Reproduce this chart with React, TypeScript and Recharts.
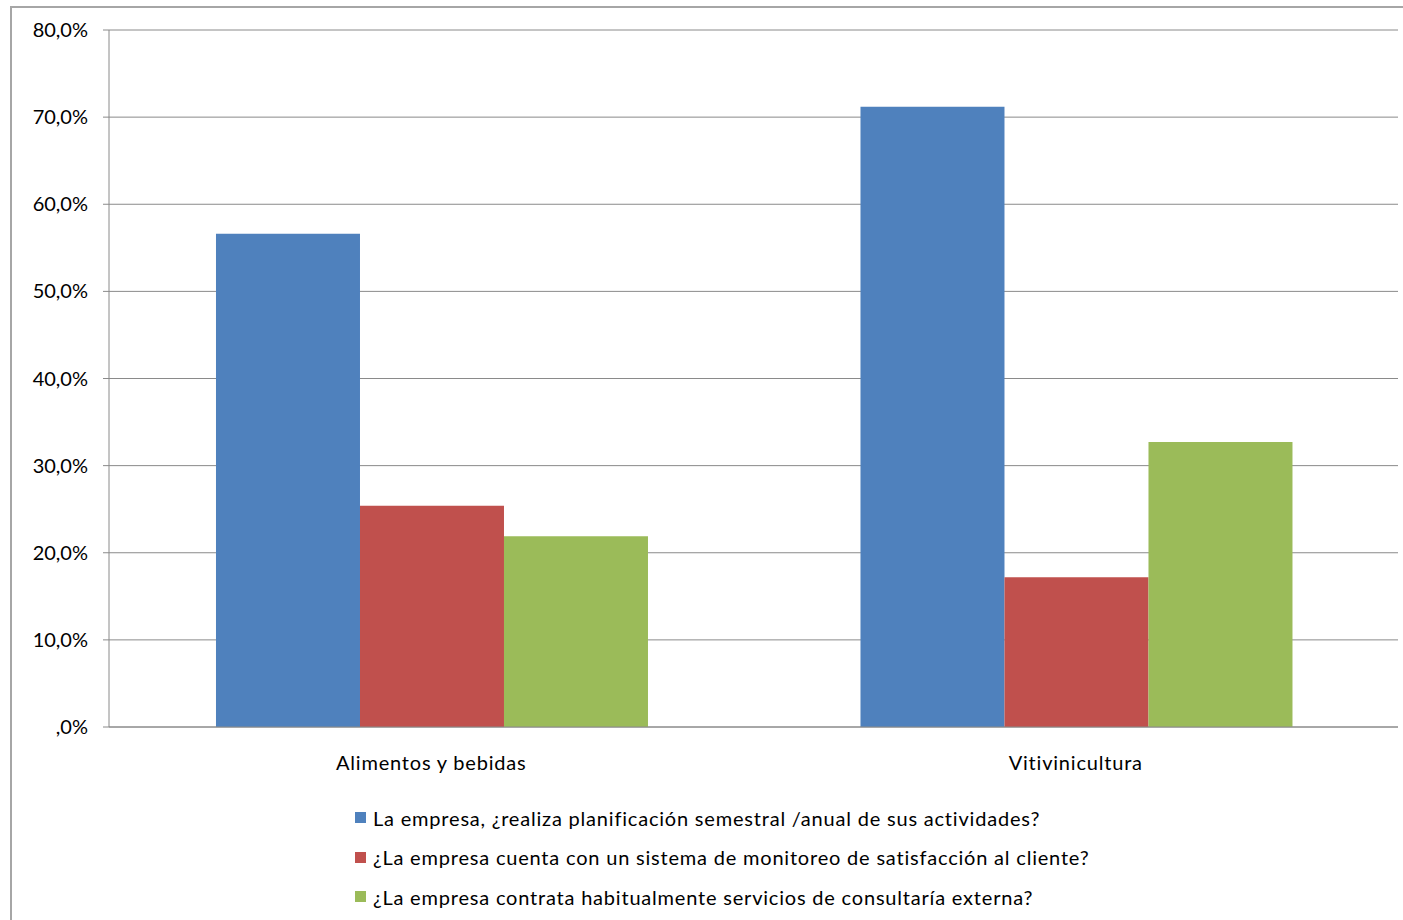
import React from 'react';
import { BarChart, Bar, XAxis, YAxis, CartesianGrid, Legend } from 'recharts';

const categories = ['Alimentos y bebidas', 'Vitivinicultura'];
const planificacion = [56.6, 71.2];
const monitoreo = [25.4, 17.2];
const consultoria = [21.9, 32.7];
const yTicks = [0, 10, 20, 30, 40, 50, 60, 70, 80];

const series = [
  { key: 'planificacion', name: 'La empresa, ¿realiza planificación semestral /anual de sus actividades?', color: '#4F81BD' },
  { key: 'monitoreo', name: '¿La empresa cuenta con un sistema de monitoreo de satisfacción al cliente?', color: '#C0504D' },
  { key: 'consultoria', name: '¿La empresa contrata habitualmente servicios de consultaría externa?', color: '#9BBB59' },
];

const data = categories.map((name, i) => ({
  name,
  planificacion: planificacion[i],
  monitoreo: monitoreo[i],
  consultoria: consultoria[i],
}));

const FONT = 'Lato, "Liberation Sans", sans-serif';
const AXIS = '#8a8a8a';
const SPACING = 0.8;

const fmtPct = (v: number) => (v === 0 ? ',0%' : v.toFixed(1).replace('.', ',') + '%');

const LegendBox = () => (
  <div style={{ fontFamily: FONT, fontSize: 20, color: '#000', letterSpacing: SPACING }}>
    {series.map((s) => (
      <div key={s.key} style={{ height: 39.5, display: 'flex', alignItems: 'center', whiteSpace: 'nowrap' }}>
        <span style={{ width: 11, height: 11, background: s.color, marginRight: 7, display: 'inline-block' }} />
        <span>{s.name}</span>
      </div>
    ))}
  </div>
);

export default function App() {
  return (
    <div style={{ position: 'fixed', left: 0, top: 0, width: 1403, height: 920, overflow: 'hidden', background: '#fff' }}>
      <div style={{ position: 'absolute', left: 10, top: 6, width: 1400, height: 920, border: '2px solid #a6a6a6', boxSizing: 'border-box' }} />
      <div style={{ position: 'absolute', left: 0, top: 0 }}>
        <BarChart
          width={1403}
          height={920}
          data={data}
          margin={{ top: 30, right: 5, left: 10, bottom: 143 }}
          barCategoryGap="16.6%"
          barGap={0}
        >
          <CartesianGrid vertical={false} stroke={AXIS} />
          <XAxis
            xAxisId="edge"
            type="number"
            domain={[0, 2]}
            ticks={[0, 1, 2]}
            height={0}
            tick={false}
            axisLine={false}
            tickSize={6}
            tickLine={{ stroke: AXIS }}
          />
          <XAxis
            dataKey="name"
            height={50}
            tickLine={false}
            tickSize={0}
            tickMargin={29}
            axisLine={{ stroke: AXIS }}
            tick={{ fill: '#000', fontFamily: FONT, fontSize: 20, letterSpacing: SPACING }}
          />
          <YAxis
            width={99}
            domain={[0, 80]}
            ticks={yTicks}
            tickFormatter={fmtPct}
            tickSize={6}
            tickMargin={15}
            axisLine={{ stroke: AXIS }}
            tickLine={{ stroke: AXIS }}
            tick={{ fill: '#000', fontFamily: FONT, fontSize: 20 }}
          />
          <Legend
            layout="horizontal"
            verticalAlign="middle"
            align="center"
            content={() => <LegendBox />}
            wrapperStyle={{ left: 355, top: 798, width: 'auto' }}
          />
          {series.map((s) => (
            <Bar key={s.key} dataKey={s.key} name={s.name} fill={s.color} isAnimationActive={false} />
          ))}
        </BarChart>
      </div>
    </div>
  );
}
